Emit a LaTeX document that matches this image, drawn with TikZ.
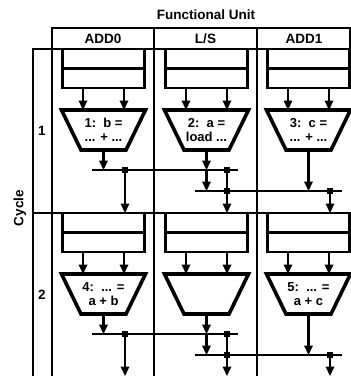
\documentclass[tikz,border=0pt]{standalone}
\usepackage{fontspec}
\setmainfont{Liberation Sans}
\usetikzlibrary{arrows.meta,calc}
\begin{document}
\begin{tikzpicture}[x=1pt,y=-1pt,
  frame/.style={line width=2pt},
  regbox/.style={draw,line width=2.2pt,minimum width=82pt,minimum height=39pt,inner sep=0pt,outer sep=0pt},
  alu/.style={line width=3.6pt,line join=miter},
  bus/.style={line width=2.4pt},
  arr/.style={line width=2.2pt,-{Triangle[length=9.5pt,width=8.5pt]}},
  lbl/.style={font=\fontsize{13.5}{15}\selectfont\bfseries,inner sep=0pt},
  alutext/.style={font=\fontsize{13}{14.5}\selectfont\bfseries,inner sep=0pt,align=center},
  dot/.style={rectangle,fill,inner sep=0pt,minimum size=5.5pt}
]
\useasboundingbox (0,0) rectangle (351,376);
% frame
\draw[frame] (52,28) rectangle (350,49);
\draw[frame] (154,28) -- (154,376);
\draw[frame] (257,28) -- (257,376);
\draw[frame] (52,28) -- (52,376);
\draw[frame] (33,376) -- (33,49) -- (52,49);
\draw[frame] (33,213) -- (350,213);
% labels
\node[lbl] (fu) at (206,15) {Functional Unit};
\node[lbl] (h1) at (103,38.5) {ADD0};
\node[lbl] (h2) at (205.5,38.5) {L/S};
\node[lbl] (h3) at (304,38.5) {ADD1};
\node[lbl,rotate=90] (cy) at (20,208) {Cycle};
\node[lbl] (c1) at (42,131) {1};
\node[lbl] (c2) at (42,295) {2};
% cycles
\foreach \k/\y in {1/49, 2/213} {
  \foreach \j/\c in {1/103.5, 2/206.5, 3/308.5} {
    \node[regbox] (r\k\j) at (\c, \y+19.5) {};
    \draw[line width=2.2pt] (r\k\j.west) -- (r\k\j.east);
    \coordinate (t\k\j) at (\c, \y+61);
    \coordinate (b\k\j) at (\c, \y+101);
    \draw[alu] ($(t\k\j)+(-42,0)$) -- ($(t\k\j)+(42,0)$) -- ($(b\k\j)+(22.5,0)$) -- ($(b\k\j)+(-22.5,0)$) -- cycle;
    \draw[arr] ([xshift=-20.5pt]r\k\j.south) -- ([xshift=-20.5pt]t\k\j);
    \draw[arr] ([xshift=20.5pt]r\k\j.south) -- ([xshift=20.5pt]t\k\j);
  }
  \coordinate (la\k) at (92, \y+121);
  \coordinate (ra\k) at (238, \y+121);
  \coordinate (lb\k) at (195, \y+142);
  \coordinate (rb\k) at (342, \y+142);
  \draw[bus] (la\k) -- (ra\k);
  \draw[bus] (lb\k) -- (rb\k);
  \draw[arr] (b\k1) -- (b\k1 |- la\k);
  \draw[arr] (b\k2) -- (b\k2 |- la\k);
  \draw[arr] (b\k2 |- la\k) -- (b\k2 |- lb\k);
  \draw[arr] (b\k3) -- (b\k3 |- lb\k);
  \node[dot] (da\k) at (125, \y+121) {};
  \node[dot] (db\k) at (227, \y+121) {};
  \node[dot] (dc\k) at (227, \y+142) {};
  \node[dot] (dd\k) at (330, \y+142) {};
}
\node[alutext] (a11) at (103.5,130) {1:\ \ b =\\... + ...};
\node[alutext] (a12) at (206.5,130) {2:\ \ a =\\load ...};
\node[alutext] (a13) at (308.5,130) {3:\ \ c =\\... + ...};
\node[alutext] (a21) at (103.5,294) {4:\ \ ... =\\a + b};
\node[alutext] (a23) at (308.5,294) {5:\ \ ... =\\a + c};
% taps to cycle 2
\draw[arr] (da1.center) -- (da1 |- r21.north);
\draw[line width=2.2pt] (db1.center) -- (dc1.center);
\draw[arr] (dc1.center) -- (dc1 |- r22.north);
\draw[arr] (dd1.center) -- (dd1 |- r23.north);
% taps out of cycle 2
\coordinate (e1) at (125,376);
\coordinate (e3) at (330,376);
\draw[arr] (da2.center) -- (e1);
\draw[line width=2.2pt] (db2.center) -- (dc2.center);
\draw[arr] (dc2.center) -- (dc2 |- e1);
\draw[arr] (dd2.center) -- (e3);
\end{tikzpicture}
\end{document}
